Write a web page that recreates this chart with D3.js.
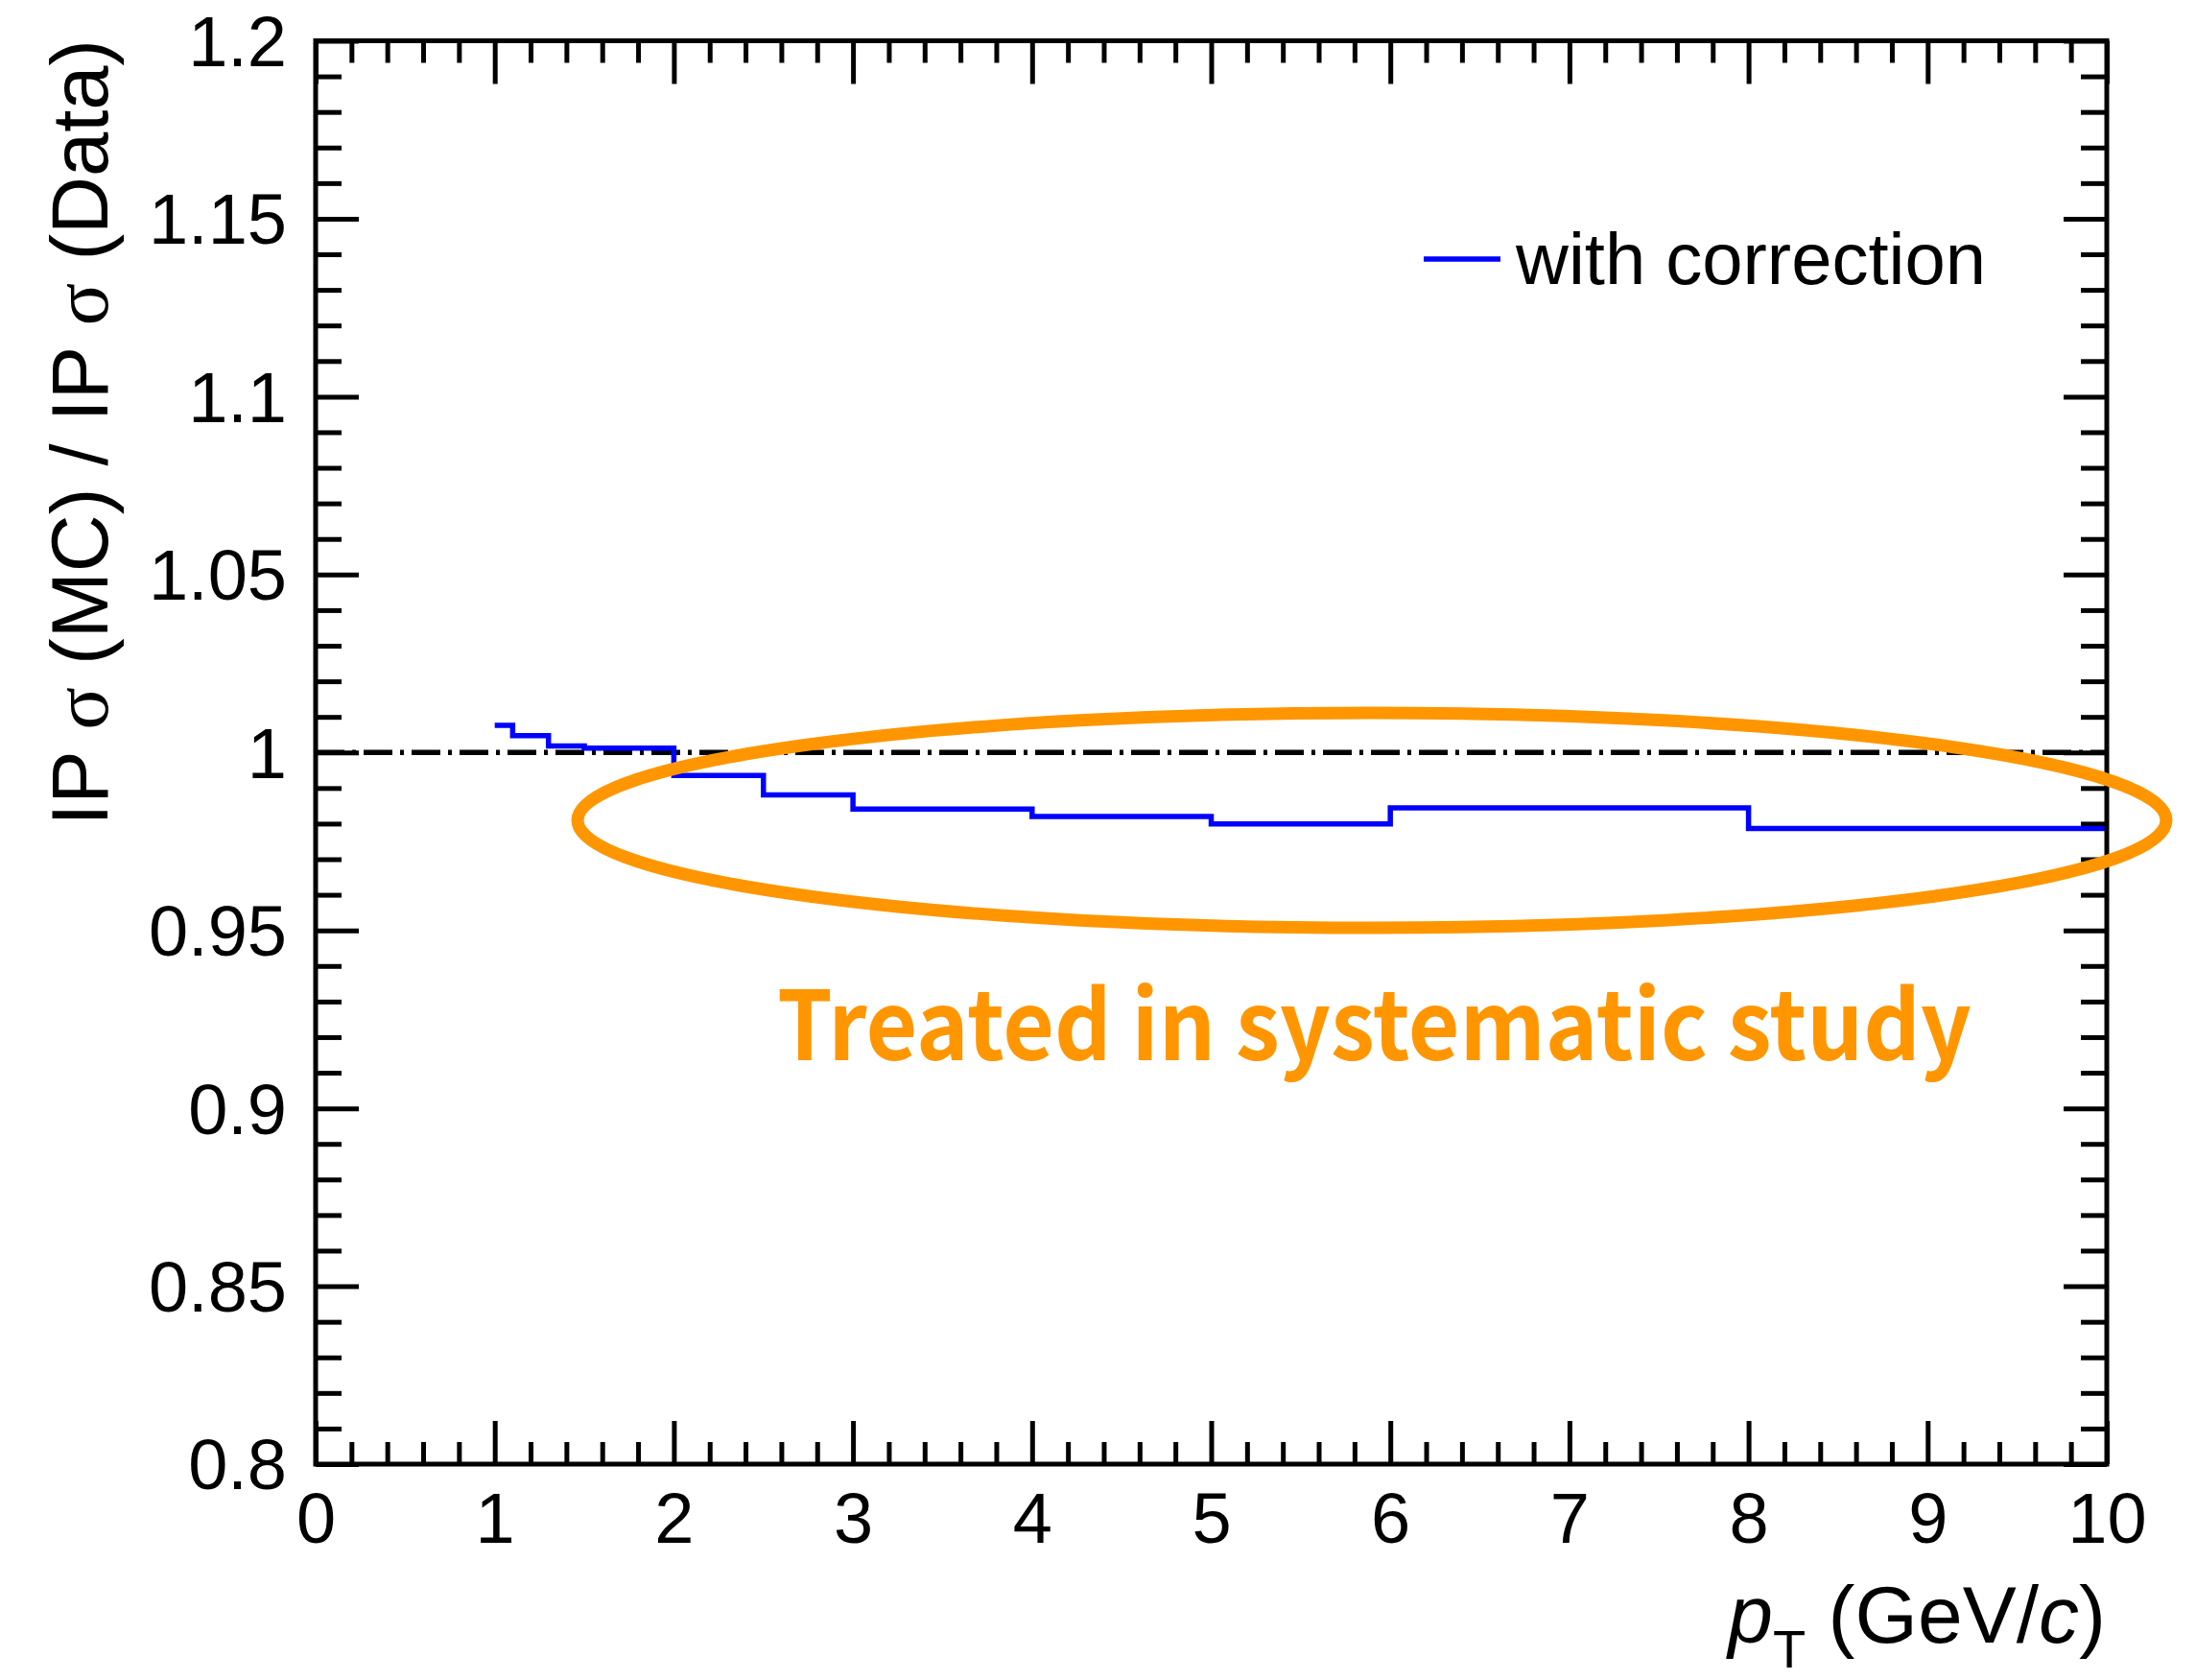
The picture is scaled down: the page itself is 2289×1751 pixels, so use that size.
<!DOCTYPE html>
<html>
<head>
<meta charset="utf-8">
<script src="https://cdn.jsdelivr.net/npm/d3@7"></script>
<style>
  html, body { margin: 0; padding: 0; background: #ffffff; }
  svg { display: block; }
</style>
</head>
<body>
<script>
// pT bin edges (GeV/c) and the MC/Data ratio of the IP resolution per bin
const binEdges = [1.0, 1.1, 1.3, 1.5, 2.0, 2.5, 3.0, 4.0, 5.0, 6.0, 8.0, 10.0];
const ratioValues = [1.0076, 1.0047, 1.0018, 1.0012, 0.9935, 0.9881, 0.9841, 0.9820, 0.9799, 0.9844, 0.9786];

const xTickValues = [0, 1, 2, 3, 4, 5, 6, 7, 8, 9, 10];
const xTickLabels = ["0", "1", "2", "3", "4", "5", "6", "7", "8", "9", "10"];
const yTickValues = [0.8, 0.85, 0.9, 0.95, 1.0, 1.05, 1.1, 1.15, 1.2];
const yTickLabels = ["0.8", "0.85", "0.9", "0.95", "1", "1.05", "1.1", "1.15", "1.2"];

const legendLabel = "with correction";
const noteLabel = "Treated in systematic study";
const referenceLevel = 1.0;

const W = 2289, H = 1751;
const frame = { left: 329, right: 2196, top: 42.5, bottom: 1526 };
const ORANGE = "#ff9600";
const SANS = "'Liberation Sans', Arial, Helvetica, sans-serif";

const svg = d3.select("body").append("svg")
  .attr("width", W).attr("height", H)
  .attr("viewBox", `0 0 ${W} ${H}`);

const x = d3.scaleLinear().domain([0, 10]).range([frame.left, frame.right]);
const y = d3.scaleLinear().domain([0.8, 1.2]).range([frame.bottom, frame.top]);

// tick positions
const xMinor = d3.range(0, 10.0001, 0.2).map(v => +v.toFixed(2)).filter(v => !xTickValues.includes(v));
const yMinor = d3.range(0.8, 1.2001, 0.01).map(v => +v.toFixed(2))
  .filter(v => !yTickValues.some(t => Math.abs(t - v) < 1e-6));

const tickW = 5;
const xMajLen = 45, xMinLen = 23, yMajLen = 45, yMinLen = 27;

// axes with inward ticks on all four sides
function drawAxis(axisGen, transform) {
  const g = svg.append("g").attr("transform", transform).call(axisGen);
  g.select(".domain").remove();
  g.selectAll("line").attr("stroke", "#000").attr("stroke-width", tickW);
  return g;
}

drawAxis(d3.axisBottom(x).tickValues(xMinor).tickSize(-xMinLen).tickFormat(""), `translate(0,${frame.bottom})`);
const xAxisG = drawAxis(d3.axisBottom(x).tickValues(xTickValues).tickSize(-xMajLen)
  .tickPadding(0).tickFormat((d, i) => xTickLabels[i]), `translate(0,${frame.bottom})`);
xAxisG.selectAll("text")
  .attr("font-family", SANS).attr("font-size", 74).attr("fill", "#000")
  .attr("dy", null).attr("y", 82);

drawAxis(d3.axisTop(x).tickValues(xMinor).tickSize(-xMinLen).tickFormat(""), `translate(0,${frame.top})`);
drawAxis(d3.axisTop(x).tickValues(xTickValues).tickSize(-xMajLen).tickFormat(""), `translate(0,${frame.top})`);

drawAxis(d3.axisLeft(y).tickValues(yMinor).tickSize(-yMinLen).tickFormat(""), `translate(${frame.left},0)`);
const yAxisG = drawAxis(d3.axisLeft(y).tickValues(yTickValues).tickSize(-yMajLen)
  .tickPadding(0).tickFormat((d, i) => yTickLabels[i]), `translate(${frame.left},0)`);
yAxisG.selectAll("text")
  .attr("font-family", SANS).attr("font-size", 74).attr("fill", "#000")
  .attr("x", -30).attr("dy", "0.35em");

drawAxis(d3.axisRight(y).tickValues(yMinor).tickSize(-yMinLen).tickFormat(""), `translate(${frame.right},0)`);
drawAxis(d3.axisRight(y).tickValues(yTickValues).tickSize(-yMajLen).tickFormat(""), `translate(${frame.right},0)`);

// reference line at ratio = 1
svg.append("line")
  .attr("x1", x(0)).attr("x2", x(10))
  .attr("y1", y(referenceLevel)).attr("y2", y(referenceLevel))
  .attr("stroke", "#000").attr("stroke-width", 5.5)
  .attr("stroke-dasharray", "30 8 4 8");

// step histogram
const stepPoints = ratioValues.map((v, i) => [binEdges[i], v]);
stepPoints.push([binEdges[binEdges.length - 1], ratioValues[ratioValues.length - 1]]);
const stepLine = d3.line().x(d => x(d[0])).y(d => y(d[1])).curve(d3.curveStepAfter);
svg.append("path")
  .attr("d", stepLine(stepPoints))
  .attr("fill", "none").attr("stroke", "#0000ff").attr("stroke-width", 5.5);

// frame
svg.append("rect")
  .attr("x", frame.left).attr("y", frame.top)
  .attr("width", frame.right - frame.left).attr("height", frame.bottom - frame.top)
  .attr("fill", "none").attr("stroke", "#000").attr("stroke-width", 5);

// legend
svg.append("line")
  .attr("x1", 1484).attr("x2", 1564).attr("y1", 270).attr("y2", 270)
  .attr("stroke", "#0000ff").attr("stroke-width", 5.5);
svg.append("text")
  .attr("x", 1580).attr("y", 296)
  .attr("font-family", SANS).attr("font-size", 76).attr("fill", "#000")
  .text(legendLabel);

// highlight ellipse and note
svg.append("ellipse")
  .attr("cx", 1430).attr("cy", 855).attr("rx", 828).attr("ry", 112)
  .attr("fill", "none").attr("stroke", ORANGE).attr("stroke-width", 13);
svg.append("text")
  .attr("x", 810).attr("y", 1105)
  .attr("font-family", "'Noto Sans CJK KR', 'Noto Sans', sans-serif")
  .attr("font-weight", 700).attr("font-size", 100).attr("fill", ORANGE)
  .attr("textLength", 1245).attr("lengthAdjust", "spacingAndGlyphs")
  .text(noteLabel);

// x axis title
const xt = svg.append("text")
  .attr("x", 2195).attr("y", 1712).attr("text-anchor", "end")
  .attr("font-family", SANS).attr("font-size", 84).attr("fill", "#000");
xt.append("tspan").attr("font-style", "italic").text("p");
xt.append("tspan").attr("font-size", 56).attr("dy", 26).text("T");
xt.append("tspan").attr("dy", -26).text(" (GeV/");
xt.append("tspan").attr("font-style", "italic").text("c");
xt.append("tspan").text(")");

// y axis title
const yt = svg.append("text")
  .attr("transform", "translate(112,41) rotate(-90)")
  .attr("text-anchor", "end")
  .attr("font-family", SANS).attr("font-size", 83).attr("fill", "#000");
yt.append("tspan").text("IP ");
yt.append("tspan").attr("font-family", "'Liberation Serif', 'DejaVu Serif', serif").text("σ");
yt.append("tspan").text(" (MC) / IP ");
yt.append("tspan").attr("font-family", "'Liberation Serif', 'DejaVu Serif', serif").text("σ");
yt.append("tspan").text(" (Data)");
</script>
</body>
</html>
